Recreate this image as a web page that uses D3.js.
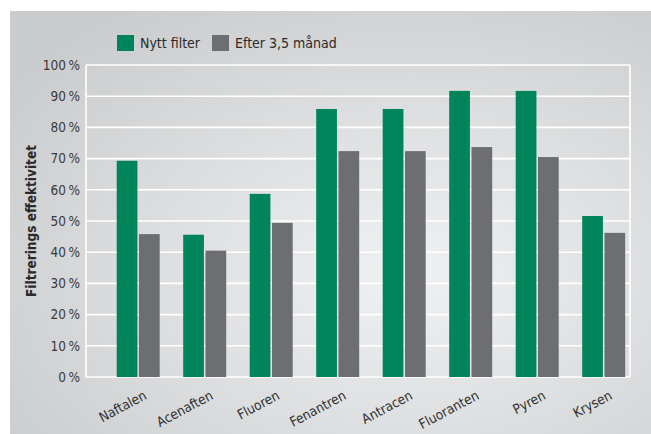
<!DOCTYPE html>
<html>
<head>
<meta charset="utf-8">
<script src="https://cdn.jsdelivr.net/npm/d3@7"></script>
<style>
  html, body { margin: 0; padding: 0; background: #fff; }
  svg { display: block; font-family: "Liberation Sans Narrow", "DejaVu Sans Condensed", sans-serif; }
</style>
</head>
<body>
<svg id="chart" width="651" height="434"></svg>
<script>
const categories = ['Naftalen', 'Acenaften', 'Fluoren', 'Fenantren', 'Antracen', 'Fluoranten', 'Pyren', 'Krysen'];
const nyttFilter = [69.3, 45.6, 58.7, 85.9, 85.9, 91.7, 91.7, 51.6];
const efter35 = [45.8, 40.5, 49.4, 72.4, 72.4, 73.7, 70.5, 46.2];
const seriesNames = ['Nytt filter', 'Efter 3,5 månad'];
const yTicks = [0, 10, 20, 30, 40, 50, 60, 70, 80, 90, 100];

const GREEN = '#00845a';
const GREY = '#6d6e71';
const colors = [GREEN, GREY];

const W = 651, H = 434;
const plot = { left: 86, right: 630, top: 65, bottom: 377 };

const svg = d3.select('#chart');

// background panel with soft radial light
const defs = svg.append('defs');
const grad = defs.append('radialGradient').attr('id', 'bg')
  .attr('cx', '0.62').attr('cy', '0.62').attr('r', '0.75');
grad.append('stop').attr('offset', '0%').attr('stop-color', '#f0f1f2');
grad.append('stop').attr('offset', '100%').attr('stop-color', '#cbcccd');

svg.append('rect').attr('x', 10).attr('y', 11).attr('width', W - 10).attr('height', H - 11)
  .attr('fill', 'url(#bg)');

const y = d3.scaleLinear().domain([0, 100]).range([plot.bottom, plot.top]);
const x = d3.scaleBand().domain(categories).range([105, 637]).padding(0);
const inner = d3.scaleBand().domain([0, 1]).range([11.7, 54.7]).paddingInner(0.07);

// gridlines
svg.append('g').selectAll('line').data(yTicks).join('line')
  .attr('x1', plot.left).attr('x2', plot.right)
  .attr('y1', d => y(d)).attr('y2', d => y(d))
  .attr('stroke', '#fff').attr('stroke-width', 1.6);

// frame sides
svg.append('line').attr('x1', plot.left).attr('x2', plot.left)
  .attr('y1', plot.top).attr('y2', plot.bottom).attr('stroke', '#fff').attr('stroke-width', 1.6);
svg.append('line').attr('x1', plot.right).attr('x2', plot.right)
  .attr('y1', plot.top).attr('y2', plot.bottom).attr('stroke', '#fff').attr('stroke-width', 1.6);

// y axis labels
const yAxis = d3.axisLeft(y).tickValues(yTicks).tickSize(0).tickPadding(6)
  .tickFormat(d => d + '\u2009%');
const ya = svg.append('g').attr('transform', `translate(${plot.left},0)`).call(yAxis);
ya.select('.domain').remove();
ya.selectAll('text').attr('font-size', 13.5).attr('fill', '#3a3a3a')
  .attr('font-family', '"Liberation Sans Narrow", "DejaVu Sans Condensed", sans-serif');

// bars
const rows = categories.map((c, i) => ({ cat: c, vals: [nyttFilter[i], efter35[i]] }));
const groups = svg.append('g').selectAll('g').data(rows).join('g')
  .attr('transform', d => `translate(${x(d.cat)},0)`);
groups.selectAll('rect').data(d => d.vals.map((v, k) => ({ v, k }))).join('rect')
  .attr('x', d => inner(d.k))
  .attr('width', inner.bandwidth())
  .attr('y', d => y(d.v))
  .attr('height', d => y(0) - y(d.v))
  .attr('fill', d => colors[d.k]);

// x labels, rotated
svg.append('g').selectAll('text').data(categories).join('text')
  .attr('transform', d => `translate(${x(d) + 38},${plot.bottom + 13}) rotate(-28)`)
  .attr('text-anchor', 'end')
  .attr('dy', '0.7em')
  .attr('font-size', 13.5).attr('fill', '#2f2f2f')
  .text(d => d);

// y axis title
svg.append('text')
  .attr('transform', `translate(36,${(plot.top + plot.bottom) / 2}) rotate(-90)`)
  .attr('text-anchor', 'middle')
  .attr('font-size', 13.5).attr('font-weight', 'bold').attr('fill', '#2a2a2a')
  .attr('font-family', '"DejaVu Sans Condensed", "Liberation Sans Narrow", sans-serif')
  .text('Filtrerings effektivitet');

// legend
const legendX = [117, 212];
const lg = svg.append('g').selectAll('g').data(seriesNames).join('g')
  .attr('transform', (d, i) => `translate(${legendX[i]},35)`);
lg.append('rect').attr('width', 17).attr('height', 16).attr('fill', (d, i) => colors[i]);
lg.append('text').attr('x', 23).attr('y', 13).attr('font-size', 14).attr('fill', '#2a2a2a').text(d => d);
</script>
</body>
</html>
